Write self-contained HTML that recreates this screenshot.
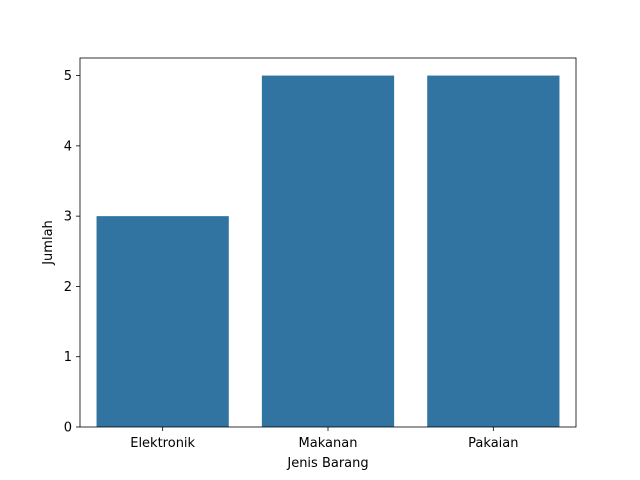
<!DOCTYPE html>
<html><head><meta charset="utf-8"><style>body{margin:0;background:#fff}svg{display:block}text{font-family:"DejaVu Sans","Liberation Sans",sans-serif;font-size:13px;fill:#000}</style></head>
<body>
<svg id="chart" width="640" height="480">
<g id="plot"></g>
</svg>
<script>
const categories = ["Elektronik","Makanan","Pakaian"];
const values = [3,5,5];
const yTicks = [0,1,2,3,4,5];
const L=80,R=576,T=58,B=427,yMax=5.25;
const xs = i => L + (i+0.5)*(R-L)/categories.length;
const ys = v => B - v*(B-T)/yMax;
const NS="http://www.w3.org/2000/svg";
const g=document.getElementById('plot');
function mk(tag,attrs){const e=document.createElementNS(NS,tag);for(const k in attrs)e.setAttribute(k,attrs[k]);g.appendChild(e);return e;}
const bw=0.8*(R-L)/categories.length;
categories.forEach((c,i)=>{
  const r=mk('rect',{x:xs(i)-bw/2,y:ys(values[i]),width:bw,height:B-ys(values[i]),fill:'#3274a1'});
  
  
  const t=mk('line',{x1:xs(i),x2:xs(i),y1:B,y2:B+4,stroke:'#000','stroke-width':0.8});
  
  
  const l=mk('text',{x:xs(i),y:B+20,'text-anchor':'middle'});l.textContent=c;
  
  
});
yTicks.forEach(v=>{
  const t=mk('line',{x1:L-4,x2:L,y1:ys(v),y2:ys(v),stroke:'#000','stroke-width':0.8});
  
  
  const l=mk('text',{x:L-8,y:ys(v)+4.5,'text-anchor':'end'});l.textContent=v;
  
  
});
const f=mk('rect',{x:L,y:T,width:R-L,height:B-T,fill:'none',stroke:'#000','stroke-width':0.8});


const xt=mk('text',{x:(L+R)/2,y:467,'text-anchor':'middle'});xt.textContent='Jenis Barang';


const yt=mk('text',{x:0,y:0,'text-anchor':'middle',transform:'translate(52,'+((T+B)/2)+') rotate(-90)'});yt.textContent='Jumlah';


</script>
</body></html>
